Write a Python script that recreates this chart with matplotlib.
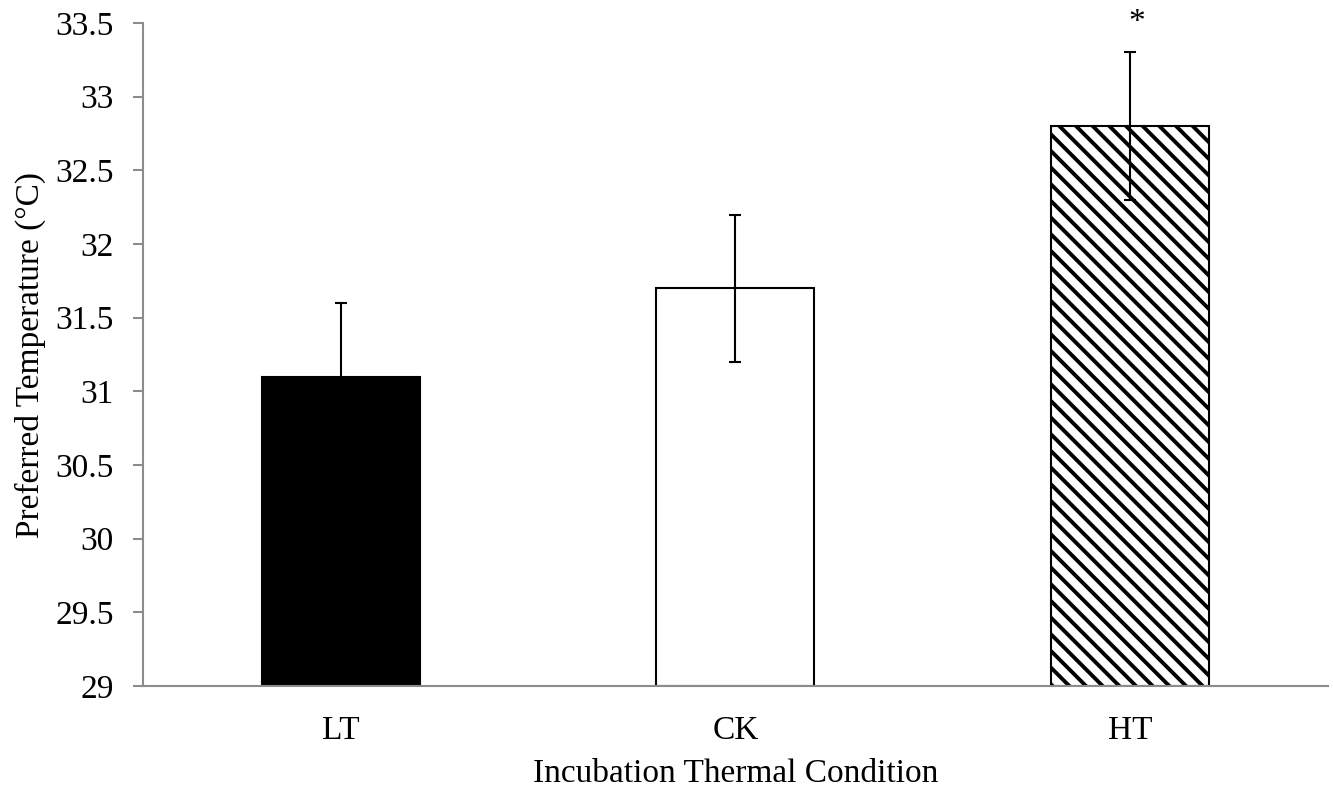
import matplotlib
matplotlib.use('Agg')
import matplotlib.pyplot as plt
import numpy as np

# ----------------------------
# Data
# ----------------------------
conditions = ['LT', 'CK', 'HT']
pref_temp = [31.1, 31.7, 32.8]
pref_err = [0.5, 0.5, 0.5]
fills = ['black', 'white', 'white']
hatches = ['', '', '\\\\']
sig_marks = ['', '', '*']

plt.rcParams['font.family'] = ['Liberation Serif', 'DejaVu Serif']
plt.rcParams['hatch.linewidth'] = 2.8

fig = plt.figure(figsize=(13.33, 7.91), dpi=100)
ax = fig.add_axes([0.1073, 0.1327, 0.8889, 0.8382])

x = np.arange(len(conditions))
ax.bar(x, [v - 29 for v in pref_temp], bottom=29, width=0.4, color=fills,
       edgecolor='black', linewidth=1.5, hatch=hatches, zorder=2)
ax.errorbar(x, pref_temp, yerr=pref_err, fmt='none', ecolor='black',
            elinewidth=1.5, capsize=4.3, capthick=1.5, zorder=3)

for xi, v, e, m in zip(x, pref_temp, pref_err, sig_marks):
    if m:
        ax.text(xi + 0.015, v + e + 0.1, m, ha='center', va='bottom',
                fontsize=24, clip_on=False)

ax.set_xlim(-0.5, 2.5)
ax.set_ylim(29, 33.5)
ax.set_yticks(np.arange(29, 33.51, 0.5))
ax.set_yticklabels(['29', '29.5', '30', '30.5', '31', '31.5', '32', '32.5', '33', '33.5'])
ax.set_xticks(x)
ax.set_xticklabels(conditions)

for s in ['top', 'right']:
    ax.spines[s].set_visible(False)
for s in ['left', 'bottom']:
    ax.spines[s].set_color('#8c8c8c')
    ax.spines[s].set_linewidth(1.5)

ax.tick_params(axis='y', length=7, width=1.5, color='#8c8c8c', pad=14, labelsize=24)
ax.tick_params(axis='x', length=0, pad=21, labelsize=24)

ax.set_xlabel('Incubation Thermal Condition', fontsize=24, labelpad=9)
ax.set_ylabel('Preferred Temperature (°C)', fontsize=24, labelpad=7)

fig.savefig('out.png', dpi=100)
